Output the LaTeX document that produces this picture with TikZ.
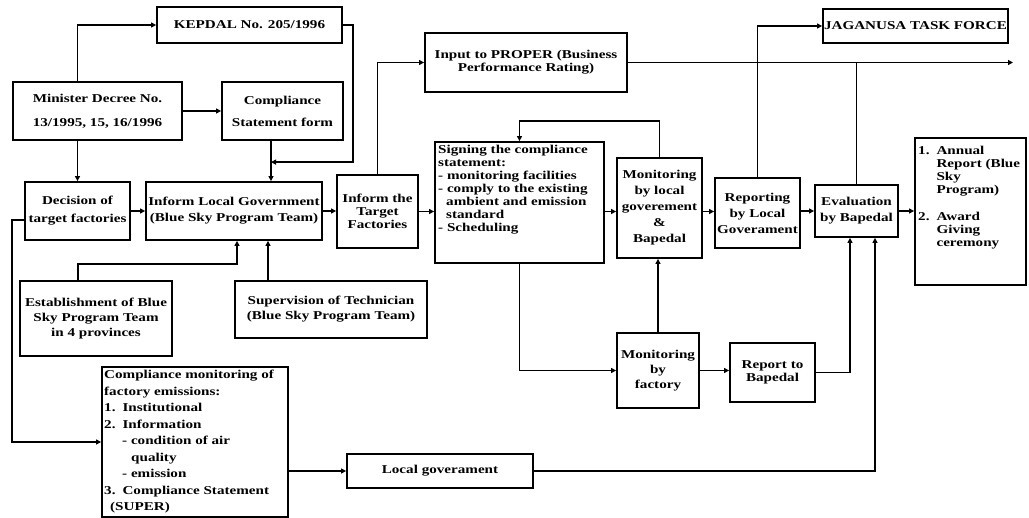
\documentclass[tikz,border=0pt]{standalone}
\usepackage{fontspec}
\setmainfont{Liberation Serif}[FakeStretch=1.26]
\usetikzlibrary{arrows.meta,calc}
\newcommand\diafs{\fontsize{12}{13}\selectfont\bfseries}
\tikzset{
  box/.style={draw, line width=1.8pt, inner sep=0pt, align=center, font=\diafs},
  txt/.style={inner sep=0pt, align=left, font=\diafs},
  conn/.style={line width=1.5pt},
  arr/.style={conn, -{Triangle[length=5pt,width=5pt]}}
}
\begin{document}
\begin{tikzpicture}[x=1pt,y=-1pt]
\useasboundingbox (0,0) rectangle (1029,518);
% boxes
\node[box,minimum width=185,minimum height=36] (kepdal) at (249.5,25) {KEPDAL No. 205/1996};
\node[box,minimum width=169,minimum height=58] (minister) at (97.5,111) {Minister Decree No.\\[11pt]13/1995, 15, 16/1996};
\node[box,minimum width=121,minimum height=58] (csform) at (282.5,111) {Compliance\\[9pt]Statement form};
\node[box,minimum width=105,minimum height=58] (decision) at (77.5,211) {Decision of\\[5pt]target factories};
\node[box,minimum width=176,minimum height=58] (inform) at (234,211) {Inform Local Government\\[3pt](Blue Sky Program Team)};
\node[box,minimum width=81,minimum height=73] (target) at (377.5,211.5) {Inform the\\Target\\Factories};
\node[box,minimum width=202,minimum height=59] (proper) at (526,62.5) {Input to PROPER (Business\\Performance Rating)};
\node[box,minimum width=169,minimum height=121] (signing) at (519.5,202.5) {};
\node[txt,anchor=north west] (signingtxt) at (438,145) {Signing the compliance\\statement:\\- monitoring facilities\\- comply to the existing\\\hspace*{8pt}ambient and emission\\\hspace*{8pt}standard\\- Scheduling};
\node[box,minimum width=85,minimum height=100] (monlocal) at (659.5,208) {Monitoring\\[3pt]by local\\[3pt]goverement\\[3pt]\&\\[3pt]Bapedal};
\node[box,minimum width=85,minimum height=70] (reporting) at (757.5,213) {Reporting\\[3pt]by Local\\[3pt]Goverament};
\node[box,minimum width=83,minimum height=52] (evaluation) at (856.5,211) {Evaluation\\[3pt]by Bapedal};
\node[box,minimum width=111,minimum height=147] (annual) at (970.5,211.5) {};
\node[txt,anchor=north west] (annualtxt) at (918,145) {\begin{tabular}{@{}l@{\hspace{7pt}}l@{}}1.&Annual\\&Report (Blue\\&Sky\\&Program)\\[14pt]2.&Award\\&Giving\\&ceremony\end{tabular}};
\node[box,minimum width=185,minimum height=34] (jaganusa) at (915.5,26) {JAGANUSA TASK FORCE};
\node[box,minimum width=152,minimum height=75] (establish) at (96,318.5) {Establishment of Blue\\[2pt]Sky Program Team\\[2pt]in 4 provinces};
\node[box,minimum width=192,minimum height=57] (supervision) at (331,309.5) {Supervision of Technician\\[2pt](Blue Sky Program Team)};
\node[box,minimum width=186,minimum height=150] (compmon) at (195,442) {};
\node[txt,anchor=north west,font=\fontsize{12}{16.5}\selectfont\bfseries] (compmontxt) at (104,370) {Compliance monitoring of\\factory emissions:\\1.\hspace{7pt}Institutional\\2.\hspace{7pt}Information\\\hspace*{18pt}- condition of air\\\hspace*{27pt}quality\\\hspace*{18pt}- emission\\3.\hspace{7pt}Compliance Statement\\\hspace*{6pt}(SUPER)};
\node[box,minimum width=82,minimum height=75] (monfactory) at (658,370.5) {Monitoring\\[2pt]by\\[2pt]factory};
\node[box,minimum width=85,minimum height=59] (report) at (772.5,372.5) {Report to\\Bapedal};
\node[box,minimum width=186,minimum height=34] (localgov) at (440,471) {Local goverament};
% helper coordinates
\coordinate (j1) at ($(inform.north)+(37,-19)$);
\coordinate (e1) at ($(evaluation.south)+(-6.5,0)$);
\coordinate (e2) at ($(evaluation.south)+(18.5,0)$);
\coordinate (out) at (1013,62.5);
% connectors
\draw[arr] (decision.north |- minister.north) |- (kepdal.west);
\draw[arr] (decision.north |- minister.south) -- (decision.north);
\draw[arr] (minister.east) -- (csform.west);
\draw[arr] (kepdal.east) -- ++(10,0) |- (j1);
\draw[arr] (csform.south -| j1) -- (inform.north -| j1);
\draw[arr] (decision.east) -- (inform.west);
\draw[arr] (inform.east) -- (inform.east -| target.west);
\draw[arr] (target.north) |- (proper.west);
\draw[arr] (target.east) -- (target.east -| signing.west);
\draw[arr] (signing.east |- target.east) -- (monlocal.west |- target.east);
\draw[arr] (monlocal.east |- target.east) -- (reporting.west |- target.east);
\draw[arr] (reporting.east |- evaluation.west) -- (evaluation.west);
\draw[arr] (evaluation.east) -- (annual.west |- evaluation.east);
\draw[arr] (monlocal.north) -- ++(0,-36) -| (signing.north);
\draw[arr] (signing.south) |- (monfactory.west);
\draw[arr] (monfactory.north) -- (monlocal.south -| monfactory.north);
\draw[arr] (monfactory.east) -- (report.west |- monfactory.east);
\draw[arr] (report.east) -| (e1);
\draw[arr] (localgov.east) -| (e2);
\draw[conn] (evaluation.north) -- (evaluation.north |- proper.east);
\draw[arr] (proper.east) -- (out);
\draw[arr] (reporting.north) |- (jaganusa.west);
\draw[arr] ($(decision.west)+(0,9)$) -- ++(-12,0) |- (compmon.west);
\draw[arr] (compmon.east |- localgov.west) -- (localgov.west);
\draw[arr] ($(establish.north)+(-18,0)$) -- ++(0,-16) -| ($(inform.south)+(3,0)$);
\draw[arr] ($(supervision.north)+(-63,0)$) -- ($(inform.south)+(34,0)$);
\end{tikzpicture}
\end{document}
